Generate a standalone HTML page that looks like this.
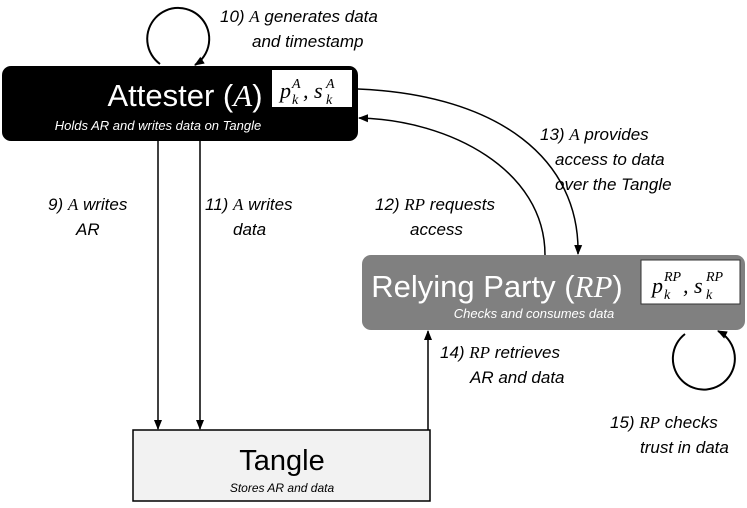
<!DOCTYPE html>
<html><head><meta charset="utf-8"><style>
body{margin:0;width:747px;height:503px;background:#fff;overflow:hidden;font-family:"Liberation Sans",sans-serif}
svg text{font-family:"Liberation Sans",sans-serif}
.l{font-style:italic;font-size:17px;fill:#000}
.m{font-family:"Liberation Serif",serif !important;font-style:italic}
</style></head><body>
<svg width="747" height="503" viewBox="0 0 747 503">
<defs><marker id="a" markerWidth="10" markerHeight="10" refX="9" refY="5" orient="auto" markerUnits="userSpaceOnUse"><path d="M0,1 L10,5 L0,9 Z" fill="#000"/></marker></defs>
<path d="M160,64 A31,31 0 1 1 195,65" fill="none" stroke="#000" stroke-width="2" marker-end="url(#a)"/>
<rect x="2" y="66" width="356" height="75" rx="9" fill="#000"/>
<rect x="272" y="70" width="80" height="37" fill="#fff"/>
<text x="185" y="106" font-size="31" fill="#fff" text-anchor="middle">Attester (<tspan class="m">A</tspan>)</text>
<g class="m" font-size="22">
<text class="m" x="280" y="98">p</text><text class="m" x="292" y="104" font-size="14">k</text><text class="m" x="292" y="88" font-size="14">A</text>
<text class="m" x="303" y="98">, s</text><text class="m" x="326" y="104" font-size="14">k</text><text class="m" x="326" y="88" font-size="14">A</text>
</g>
<text x="158" y="130" font-size="13" fill="#fff" font-style="italic" text-anchor="middle">Holds AR and writes data on Tangle</text>
<rect x="362" y="255" width="383" height="75" rx="9" fill="#808080"/>
<rect x="641" y="260" width="99" height="44" fill="#fff" stroke="#333" stroke-width="1"/>
<text x="497" y="297" font-size="31" fill="#fff" text-anchor="middle">Relying Party (<tspan class="m">RP</tspan>)</text>
<text class="m" x="652" y="293" font-size="22">p</text><text class="m" x="664" y="299" font-size="14">k</text><text class="m" x="664" y="281" font-size="14">RP</text>
<text class="m" x="683" y="293" font-size="22">, s</text><text class="m" x="706" y="299" font-size="14">k</text><text class="m" x="706" y="281" font-size="14">RP</text>
<text x="534" y="318" font-size="13" fill="#fff" font-style="italic" text-anchor="middle">Checks and consumes data</text>
<rect x="133" y="430" width="297" height="71" fill="#f2f2f2" stroke="#000" stroke-width="1.5"/>
<text x="282" y="470" font-size="29" text-anchor="middle">Tangle</text>
<text x="282" y="492" font-size="12" font-style="italic" text-anchor="middle">Stores AR and data</text>
<line x1="158" y1="141" x2="158" y2="429" stroke="#000" stroke-width="1.5" marker-end="url(#a)"/>
<line x1="200" y1="141" x2="200" y2="429" stroke="#000" stroke-width="1.5" marker-end="url(#a)"/>
<line x1="428" y1="430" x2="428" y2="331" stroke="#000" stroke-width="1.5" marker-end="url(#a)"/>
<path d="M358,89 C500,95 580,160 578,254" fill="none" stroke="#000" stroke-width="1.5" marker-end="url(#a)"/>
<path d="M545,255 C545,170 450,120 359,118" fill="none" stroke="#000" stroke-width="1.5" marker-end="url(#a)"/>
<path d="M685,334 A31,31 0 1 0 718,331" fill="none" stroke="#000" stroke-width="2" marker-end="url(#a)"/>
<text class="l" x="220" y="22">10) <tspan class="m">A</tspan> generates data</text>
<text class="l" x="252" y="47">and timestamp</text>
<text class="l" x="48" y="210">9) <tspan class="m">A</tspan> writes</text>
<text class="l" x="76" y="235">AR</text>
<text class="l" x="205" y="210">11) <tspan class="m">A</tspan> writes</text>
<text class="l" x="233" y="235">data</text>
<text class="l" x="375" y="210">12) <tspan class="m">RP</tspan> requests</text>
<text class="l" x="410" y="235">access</text>
<text class="l" x="540" y="140">13) <tspan class="m">A</tspan> provides</text>
<text class="l" x="555" y="165">access to data</text>
<text class="l" x="555" y="190">over the Tangle</text>
<text class="l" x="440" y="358">14) <tspan class="m">RP</tspan> retrieves</text>
<text class="l" x="470" y="383">AR and data</text>
<text class="l" x="610" y="428">15) <tspan class="m">RP</tspan> checks</text>
<text class="l" x="640" y="453">trust in data</text>
</svg>
</body></html>
